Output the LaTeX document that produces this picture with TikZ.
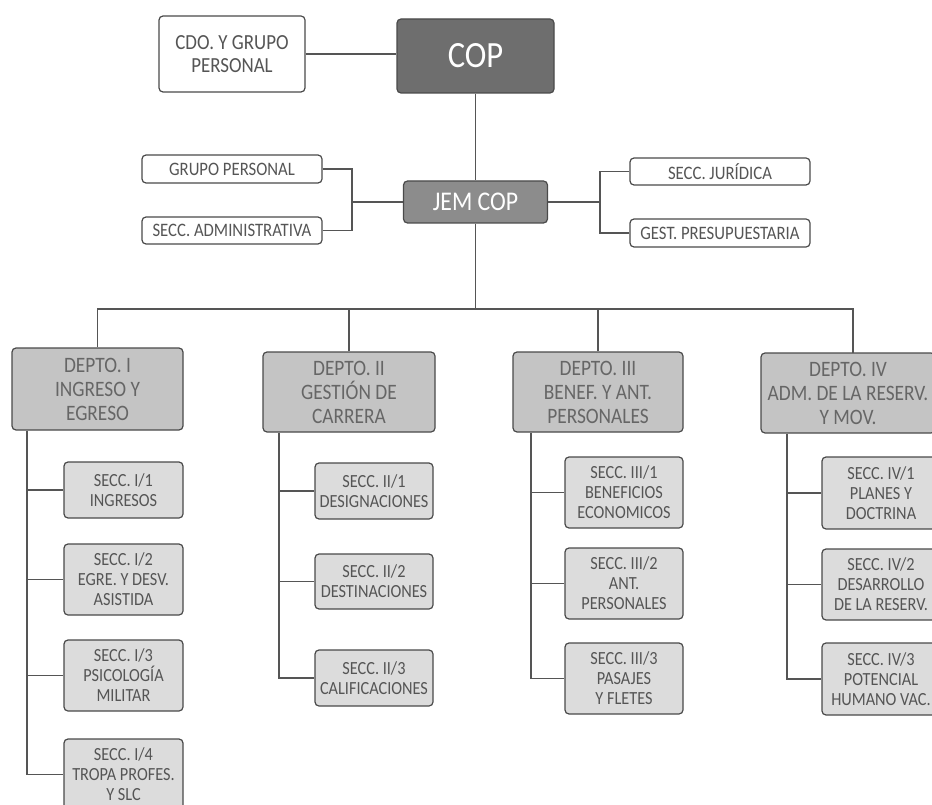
\documentclass[tikz,border=0pt]{standalone}
\usepackage{fontspec}
\setmainfont[FakeStretch=0.88]{Carlito}
\definecolor{bline}{HTML}{4A4A4A}
\definecolor{cline}{HTML}{555555}
\definecolor{txt}{HTML}{555555}
\definecolor{coptone}{HTML}{6E6E6E}
\definecolor{jemtone}{HTML}{8C8C8C}
\definecolor{depttone}{HTML}{C4C4C4}
\definecolor{subtone}{HTML}{DCDCDC}
\definecolor{depttxt}{HTML}{666666}
\tikzset{
  box/.style={draw=bline, line width=1.2pt, rounded corners=4pt, align=center, inner sep=0pt},
  whitebox/.style={box, fill=white, text=txt, font=\fontsize{19}{21}\selectfont},
  copbox/.style={box, fill=coptone, text=white, font=\fontsize{37}{40}\selectfont},
  jembox/.style={box, fill=jemtone, text=white, font=\fontsize{27}{30}\selectfont},
  deptbox/.style={box, fill=depttone, text=depttxt, font=\fontsize{22}{24}\selectfont},
  subbox/.style={box, fill=subtone, text=txt, font=\fontsize{18.5}{20}\selectfont},
  conn/.style={draw=cline, line width=1.4pt}
}
\begin{document}
\begin{tikzpicture}[x=1pt,y=-1pt]
\useasboundingbox (0,0) rectangle (932,805);
\clip (0,0) rectangle (932,805);
\fill[white] (0,0) rectangle (932,805);

% top level
\node[whitebox, font=\fontsize{21.5}{23}\selectfont, minimum width=146pt, minimum height=76pt] (cdo) at (232,54) {CDO. Y GRUPO\\PERSONAL};
\node[copbox, minimum width=157pt, minimum height=74pt] (cop) at (475.5,56) {COP};
\node[jembox, minimum width=144pt, minimum height=42pt] (jem) at (475.5,202) {JEM COP};

\node[whitebox, minimum width=180pt, minimum height=28pt] (grp) at (232,169) {GRUPO PERSONAL};
\node[whitebox, minimum width=180pt, minimum height=27pt] (adm) at (232,230.5) {SECC. ADMINISTRATIVA};
\node[whitebox, minimum width=180pt, minimum height=27pt] (jur) at (720,171.5) {SECC. JURÍDICA};
\node[whitebox, minimum width=180pt, minimum height=28pt] (gest) at (720,233) {GEST. PRESUPUESTARIA};

% departments
\node[deptbox, minimum width=171pt, minimum height=82pt] (d1) at (97.5,389) {DEPTO. I\\INGRESO Y\\EGRESO};
\node[deptbox, minimum width=172pt, minimum height=80pt] (d2) at (349,392) {DEPTO. II\\GESTIÓN DE\\CARRERA};
\node[deptbox, minimum width=170pt, minimum height=80pt] (d3) at (598,392) {DEPTO. III\\BENEF. Y ANT.\\PERSONALES};
\node[deptbox, minimum width=174pt, minimum height=80pt] (d4) at (848,393) {DEPTO. IV\\ADM. DE LA RESERV.\\Y MOV.};

% sections I
\node[subbox, minimum width=119pt, minimum height=56pt] (s11) at (123.5,490) {SECC. I/1\\INGRESOS};
\node[subbox, minimum width=119pt, minimum height=71pt] (s12) at (123.5,579.5) {SECC. I/2\\EGRE. Y DESV.\\ASISTIDA};
\node[subbox, minimum width=119pt, minimum height=71pt] (s13) at (123.5,675.5) {SECC. I/3\\PSICOLOGÍA\\MILITAR};
\node[subbox, minimum width=119pt, minimum height=71pt] (s14) at (123.5,774.5) {SECC. I/4\\TROPA PROFES.\\Y SLC};
% sections II
\node[subbox, minimum width=118pt, minimum height=56pt] (s21) at (374,491) {SECC. II/1\\DESIGNACIONES};
\node[subbox, minimum width=118pt, minimum height=55pt] (s22) at (374,581.5) {SECC. II/2\\DESTINACIONES};
\node[subbox, minimum width=118pt, minimum height=56pt] (s23) at (374,678) {SECC. II/3\\CALIFICACIONES};
% sections III
\node[subbox, minimum width=118pt, minimum height=71pt] (s31) at (624,492.5) {SECC. III/1\\BENEFICIOS\\ECONOMICOS};
\node[subbox, minimum width=118pt, minimum height=71pt] (s32) at (624,583.5) {SECC. III/2\\ANT.\\PERSONALES};
\node[subbox, minimum width=118pt, minimum height=71pt] (s33) at (624,678.5) {SECC. III/3\\PASAJES\\Y FLETES};
% sections IV
\node[subbox, minimum width=118pt, minimum height=72pt] (s41) at (881,493) {SECC. IV/1\\PLANES Y\\DOCTRINA};
\node[subbox, minimum width=118pt, minimum height=71pt] (s42) at (881,584.5) {SECC. IV/2\\DESARROLLO\\DE LA RESERV.};
\node[subbox, minimum width=118pt, minimum height=72pt] (s43) at (881,679) {SECC. IV/3\\POTENCIAL\\HUMANO VAC.};

% connectors top
\draw[conn] (cdo.east) -- (cdo.east -| cop.west);
\draw[conn] (cop.south) -- (jem.north);
\coordinate (bl) at (352,202);
\coordinate (br) at (600,202);
\draw[conn] (jem.west) -- (bl);
\draw[conn] (grp.east) -| (bl);
\draw[conn] (adm.east) -| (bl);
\draw[conn] (jem.east) -- (br);
\draw[conn] (jur.west) -| (br);
\draw[conn] (gest.west) -| (br);

% bus
\coordinate (bus) at (475.5,309);
\coordinate (d4top) at (853,353);
\draw[conn] (jem.south) -- (bus);
\draw[conn] (d1.north) |- (bus);
\draw[conn] (d4top) |- (bus);
\draw[conn] (d2.north) -- (d2.north |- bus);
\draw[conn] (d3.north) -- (d3.north |- bus);

% spines
\draw[conn] (27,0 |- d1.south) |- (s14.west);
\draw[conn] (27,0 |- s11.west) -- (s11.west);
\draw[conn] (27,0 |- s12.west) -- (s12.west);
\draw[conn] (27,0 |- s13.west) -- (s13.west);

\draw[conn] (279,0 |- d2.south) |- (s23.west);
\draw[conn] (279,0 |- s21.west) -- (s21.west);
\draw[conn] (279,0 |- s22.west) -- (s22.west);

\draw[conn] (531,0 |- d3.south) |- (s33.west);
\draw[conn] (531,0 |- s31.west) -- (s31.west);
\draw[conn] (531,0 |- s32.west) -- (s32.west);

\draw[conn] (787,0 |- d4.south) |- (s43.west);
\draw[conn] (787,0 |- s41.west) -- (s41.west);
\draw[conn] (787,0 |- s42.west) -- (s42.west);
\end{tikzpicture}
\end{document}
